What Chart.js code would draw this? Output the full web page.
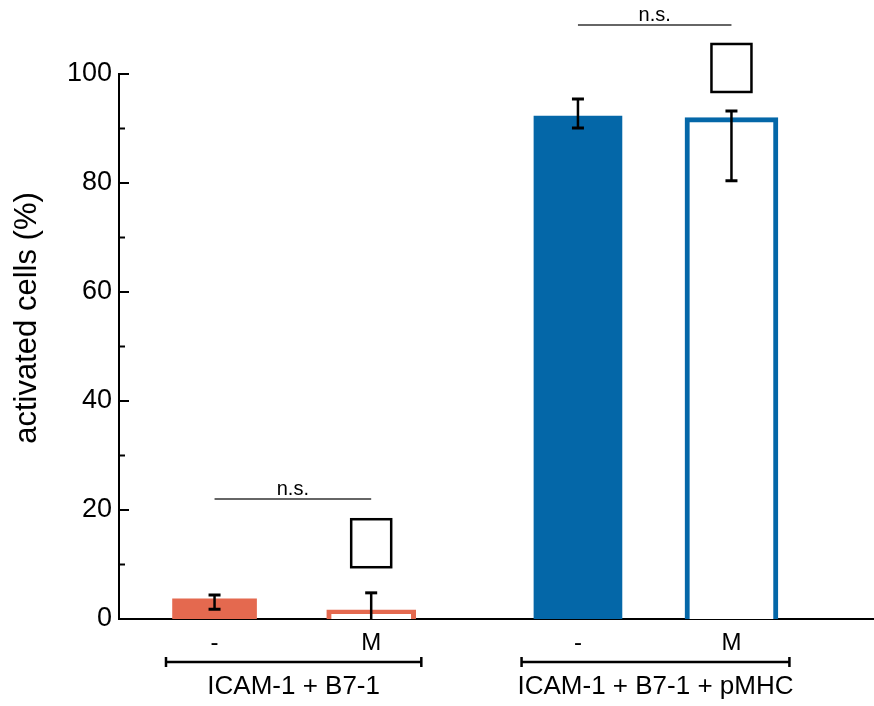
<!DOCTYPE html>
<html>
<head>
<meta charset="utf-8">
<script src="https://cdn.jsdelivr.net/npm/chart.js@4.4.1/dist/chart.umd.min.js"></script>
<style>
  html, body { margin: 0; padding: 0; background: #fff; }
  #wrap { width: 874px; height: 706px; }
</style>
</head>
<body>
<div id="wrap"><canvas id="barChart"></canvas></div>
<script>
// categories and values
const subLabels = ['-', 'M', '-', 'M'];
const xPos = [1, 2, 3.32, 4.3];
const groupLabels = ['ICAM-1 + B7-1', 'ICAM-1 + B7-1 + pMHC'];
const groupRange = [[0.69, 2.32], [2.96, 4.67]];
const values = [3.7, 1.7, 92.3, 92.0];
const errLow = [1.8, -1.6, 90.1, 80.4];
const errHigh = [4.4, 4.8, 95.4, 93.2];
const markerY = [null, 9.5, null, 96.7];   // empty glyph boxes above the M bars
const nsPairs = [[0, 1, 22], [2, 3, 109]]; // bar a, bar b, height of bracket
const yTicks = [0, 20, 40, 60, 80, 100];

const FONT = "'Liberation Sans', Arial, sans-serif";
const orange = '#E4694F';
const blue = '#0467A8';

const barStyles = [
    { bg: orange, border: orange, bw: 0, thick: 84 },
    { bg: '#ffffff', border: orange, bw: 5, thick: 89 },
    { bg: blue, border: blue, bw: 0, thick: 88 },
    { bg: '#ffffff', border: blue, bw: 5, thick: 93 }
];

const datasets = values.map((v, i) => ({
    data: [{ x: xPos[i], y: v }],
    backgroundColor: barStyles[i].bg,
    borderColor: barStyles[i].border,
    borderWidth: barStyles[i].bw,
    barThickness: barStyles[i].thick,
    grouped: false
}));

// error bars, inner ticks, brackets, annotations
const overlay = {
    id: 'overlay',
    afterDatasetsDraw(chart) {
        const { ctx, chartArea: { left, bottom }, scales: { x, y } } = chart;
        ctx.save();
        ctx.strokeStyle = '#000';

        // error bars
        values.forEach((v, i) => {
            const px = x.getPixelForValue(xPos[i]);
            const lo = Math.max(errLow[i], 0);
            const yHi = y.getPixelForValue(errHigh[i]);
            const yLo = y.getPixelForValue(lo);
            ctx.lineWidth = 2.5;
            ctx.beginPath();
            ctx.moveTo(px, yHi);
            ctx.lineTo(px, yLo);
            ctx.stroke();
            ctx.lineWidth = 3;
            ctx.beginPath();
            ctx.moveTo(px - 6, yHi);
            ctx.lineTo(px + 6, yHi);
            if (errLow[i] >= 0) {
                ctx.moveTo(px - 6, yLo);
                ctx.lineTo(px + 6, yLo);
            }
            ctx.stroke();
        });

        // inner ticks on y axis
        ctx.lineWidth = 2;
        for (let v = 10; v <= 100; v += 10) {
            const py = y.getPixelForValue(v);
            const len = v % 20 === 0 ? 10 : 6;
            ctx.beginPath();
            ctx.moveTo(left, py);
            ctx.lineTo(left + len, py);
            ctx.stroke();
        }

        // empty glyph boxes
        ctx.lineWidth = 2.5;
        markerY.forEach((m, i) => {
            if (m === null) return;
            const px = x.getPixelForValue(xPos[i]);
            const py = y.getPixelForValue(m);
            ctx.strokeRect(px - 20, py - 48, 40, 48);
        });

        // n.s. lines
        nsPairs.forEach(([a, b, h]) => {
            const x1 = x.getPixelForValue(xPos[a]);
            const x2 = x.getPixelForValue(xPos[b]);
            const py = y.getPixelForValue(h);
            ctx.strokeStyle = '#333';
            ctx.lineWidth = 1.5;
            ctx.beginPath();
            ctx.moveTo(x1, py);
            ctx.lineTo(x2, py);
            ctx.stroke();
            ctx.fillStyle = '#000';
            ctx.font = '20px ' + FONT;
            ctx.textAlign = 'center';
            ctx.textBaseline = 'alphabetic';
            ctx.fillText('n.s.', (x1 + x2) / 2, py - 4);
        });

        // group brackets and labels
        ctx.strokeStyle = '#000';
        groupLabels.forEach((g, i) => {
            const x1 = x.getPixelForValue(groupRange[i][0]);
            const x2 = x.getPixelForValue(groupRange[i][1]);
            const py = bottom + 43;
            ctx.lineWidth = 2.5;
            ctx.beginPath();
            ctx.moveTo(x1, py);
            ctx.lineTo(x2, py);
            ctx.moveTo(x1, py - 5);
            ctx.lineTo(x1, py + 5);
            ctx.moveTo(x2, py - 5);
            ctx.lineTo(x2, py + 5);
            ctx.stroke();
            ctx.fillStyle = '#000';
            ctx.font = '26px ' + FONT;
            ctx.textAlign = 'center';
            ctx.textBaseline = 'middle';
            ctx.fillText(g, (x1 + x2) / 2, py + 25);
        });

        // y title
        ctx.save();
        ctx.translate(27, 318);
        ctx.rotate(-Math.PI / 2);
        ctx.font = '31px ' + FONT;
        ctx.textAlign = 'center';
        ctx.textBaseline = 'middle';
        ctx.fillStyle = '#000';
        ctx.fillText('activated cells (%)', 0, 0);
        ctx.restore();

        ctx.restore();
    }
};

new Chart(document.getElementById('barChart'), {
    type: 'bar',
    data: { datasets },
    options: {
        responsive: true,
        maintainAspectRatio: false,
        animation: false,
        layout: { padding: { top: 74, left: 5, right: 0, bottom: 0 } },
        plugins: { legend: { display: false }, tooltip: { enabled: false } },
        scales: {
            x: {
                type: 'linear',
                min: 0.39,
                max: 5.21,
                offset: false,
                grid: { display: false, drawTicks: false },
                border: { display: true, color: '#000', width: 2 },
                afterBuildTicks: scale => { scale.ticks = xPos.map(v => ({ value: v })); },
                afterFit: scale => { scale.height = 87; },
                ticks: {
                    autoSkip: false,
                    maxRotation: 0,
                    padding: 10,
                    color: '#000',
                    font: { family: FONT, size: 24 },
                    callback: (v, i) => subLabels[i]
                }
            },
            y: {
                min: 0,
                max: 100,
                grid: { display: false, drawTicks: false },
                border: { display: true, color: '#000', width: 2 },
                afterBuildTicks: scale => { scale.ticks = yTicks.map(v => ({ value: v })); },
                afterFit: scale => { scale.width = 114; },
                ticks: {
                    padding: 7,
                    color: '#000',
                    font: { family: FONT, size: 27 }
                }
            }
        }
    },
    plugins: [overlay]
});
</script>
</body>
</html>
